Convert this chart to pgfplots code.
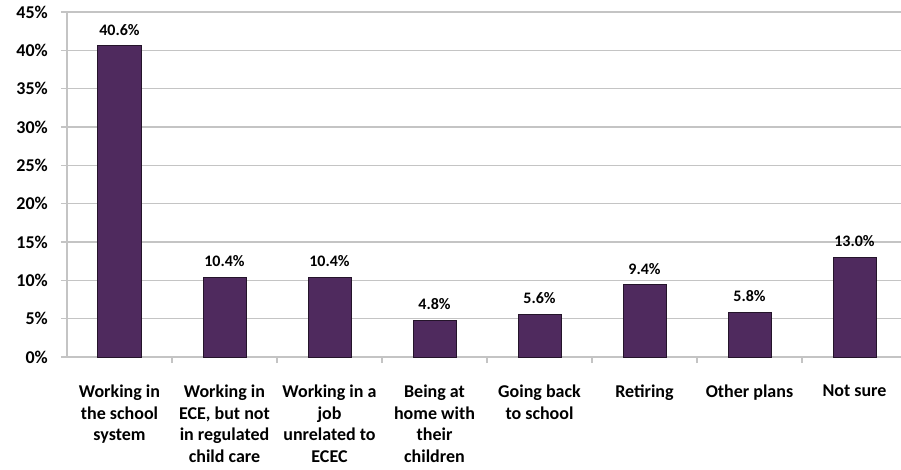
\documentclass[border=0pt]{standalone}
\usepackage{fontspec}
\setmainfont{Carlito}
\usepackage{pgfplots}
\pgfplotsset{compat=1.18}
\definecolor{barfill}{HTML}{4F2A5E}
\definecolor{barline}{HTML}{24142A}
\definecolor{gridc}{HTML}{C4C4C4}
\begin{document}
\begin{tikzpicture}
\begin{axis}[
  at={(0,0)}, anchor=south west,
  scale only axis,
  width=834pt, height=345pt,
  xmin=-0.5, xmax=7.443,
  ymin=0, ymax=45,
  axis y line*=left, axis x line*=bottom,
  axis line style={gridc, line width=1.2pt, -},
  ytick={0,5,...,45},
  ymajorgrids,
  major grid style={gridc, line width=1.3pt},
  tick align=outside,
  major tick length=6pt,
  tick style={gridc, line width=1.2pt},
  /pgf/number format/assume math mode=true,
  yticklabel={\pgfmathprintnumber{\tick}\%},
  yticklabel style={font=\fontsize{18}{21.5}\selectfont\bfseries, anchor=east, inner sep=0pt, xshift=-13pt},
  xtick={0.5,1.5,...,6.5},
  xticklabels={},
  extra x ticks={0,...,7},
  extra x tick style={major tick length=0pt, xticklabel style={font=\fontsize{18}{21.5}\selectfont\bfseries, align=center, anchor=north, inner sep=0pt, yshift=-28pt}},
  extra x tick labels={
    {Working in\\the school\\system},
    {Working in\\ECE, but not\\in regulated\\child care},
    {Working in a\\job\\unrelated to\\ECEC},
    {Being at\\home with\\their\\children},
    {Going back\\to school},
    {Retiring},
    {Other plans},
    {Not sure}},
  ybar, bar width=43pt,
  nodes near coords={\pgfmathprintnumber[fixed,fixed zerofill,precision=1]{\pgfplotspointmeta}\%},
  nodes near coords style={font=\fontsize{16}{19}\selectfont\bfseries, anchor=south, inner sep=0pt, yshift=10pt},
  clip=false,
]
\addplot[fill=barfill, draw=barline, line width=1pt] coordinates {
  (0,40.6) (1,10.4) (2,10.4) (3,4.8) (4,5.6) (5,9.4) (6,5.8) (7,13.0)
};
\end{axis}
\pgfresetboundingbox
\path (-67pt,-112pt) rectangle (834pt,357pt);
\end{tikzpicture}
\end{document}
